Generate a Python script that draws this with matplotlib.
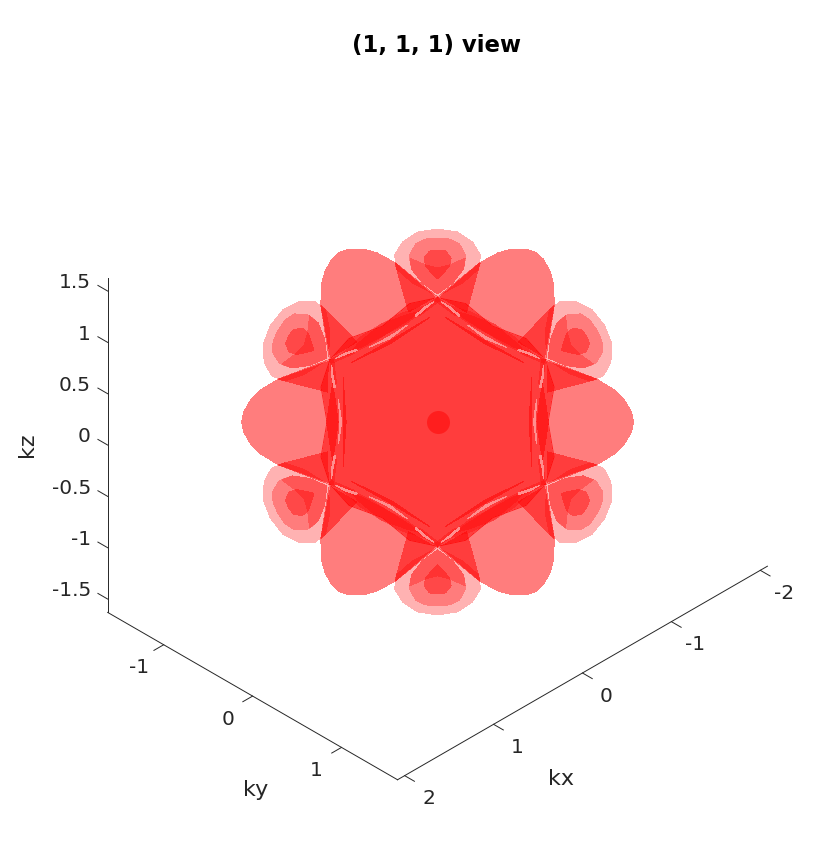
import numpy as np
import matplotlib
matplotlib.use("Agg")
import matplotlib.pyplot as plt
from mpl_toolkits.mplot3d.art3d import Poly3DCollection
from mpl_toolkits.mplot3d import proj3d

""" Axis ranges and ticks """

xlim = [-2.08, 2.08]
ylim = [-1.63, 1.63]
zlim = [-1.63, 1.63]
xticks = [-2, -1, 0, 1, 2]
yticks = [-1, 0, 1]
zticks = [-1.5, -1, -0.5, 0, 0.5, 1, 1.5]
zticklabels = ["-1.5", "-1", "-0.5", "0", "0.5", "1", "1.5"]

""" Sheet outlines read off the picture, as offsets in the (1,1,1) view plane.
    Each one is repeated every 60 degrees round the centre. """

px_per_k = 125.8

# big lobe, pointing right (upper half, mirrored in v)
lobe_u = [196, 194, 187, 177, 159, 108, 117, 111]
lobe_v = [0, 10, 22, 32, 43, 62.5, 35, 0]

# small petal, pointing up (left half, mirrored in u)
outer_u = [0, -20, -35, -43, -41, -25, 0]
outer_v = [193, 190, 180, 167, 153, 139, 126]
mid_u = [0, -12, -22, -28, -26, -15, 0]
mid_v = [184, 183, 178, 167, 153, 139, 128]
cup_u = [0, -12, -28, -26, -15, 0]
cup_v = [154, 157, 164, 153, 139, 128]
cone_u = [0, -8, -13.5, -12, -5, 0]
cone_v = [172, 171, 164, 156, 148, 143]

# flap beside each petal
flap_u = [-42.5, -29, -2.5]
flap_v = [159, 110, 125]

# one sixth of the central sheet
core_u = [117, 111, 117, 108]
core_v = [-35, 0, 35, 62.5]

# features along each hexagon edge
lens_u = [105, 108, 110.8, 108, 105, 102, 99.5, 102]
lens_v = [38, 20, 0, -20, -38, -20, 0, 20]
band_u = [106, 112, 113, 108, 103, 101, 102, 103]
band_v = [50, 25, 0, -28, -45, -20, 0, 28]
arm_u = [105, 108, 104, 101]
arm_v = [38, 62.5, 62.5, 38]
line_u = [94.5, 94, 94.5, 91.5]
line_v = [45, 0, -45, 0]
streak_u = [106, 104.5, 102, 103.5, 106]
streak_v = [57, 46, 34, 34, 46]
gap_u = [99, 98, 99, 96]
gap_v = [22, 0, -22, 0]

ink = "#262626"
tick_len = 0.11


def lift(u, v):
    """view plane offsets to kx, ky, kz"""
    u = np.asarray(u, float) / px_per_k
    v = np.asarray(v, float) / px_per_k
    s2, s6 = np.sqrt(2), np.sqrt(6)
    return np.column_stack([-u / s2 - v / s6, u / s2 - v / s6, 2 * v / s6])


def rotated(u, v, deg):
    a = np.radians(deg)
    u, v = np.asarray(u, float), np.asarray(v, float)
    return u * np.cos(a) - v * np.sin(a), u * np.sin(a) + v * np.cos(a)


def mirror_v(u, v):
    return list(u) + list(u[-2:0:-1]), list(v) + [-t for t in v[-2:0:-1]]


def mirror_u(u, v):
    return list(u) + [-t for t in u[-2:0:-1]], list(v) + list(v[-2:0:-1])


def add_sheet(ax, outlines, layers, z, color=None, angles=range(0, 360, 60)):
    """every outline at the given rotations, 30% red per layer"""
    verts = []
    for u, v in outlines:
        for deg in angles:
            verts.append(lift(*rotated(u, v, deg)))
    fc = color if color else (1, 0, 0, 1 - 0.7 ** layers)
    coll = Poly3DCollection(verts, facecolors=fc, edgecolors="none", linewidths=0, zorder=z)
    coll.set_antialiased(False)
    ax.add_collection3d(coll)


def label(ax, x, y, z, s, **kw):
    """text at a data position, through the 3d projection"""
    px, py, _ = proj3d.proj_transform(x, y, z, ax.get_proj())
    ax.text2D(px, py, s, color=ink, **kw)


fig = plt.figure(figsize=(8.27, 8.52), dpi=100)
ax = fig.add_axes([48.3 / 827, 40.8 / 852, 758 / 827, 758 / 852], projection="3d",
                  proj_type="ortho", computed_zorder=False)
ax.view_init(elev=35.264, azim=45)
ax.set_box_aspect((xlim[1] - xlim[0], ylim[1] - ylim[0], zlim[1] - zlim[0]))
ax.set_axis_off()

add_sheet(ax, [mirror_v(lobe_u, lobe_v)], 2, 1)
add_sheet(ax, [mirror_u(outer_u, outer_v)], 1, 2)
add_sheet(ax, [mirror_u(mid_u, mid_v)], 1, 3)
add_sheet(ax, [mirror_u(cup_u, cup_v)], 1, 4)
add_sheet(ax, [mirror_u(cone_u, cone_v)], 1.5, 5)
add_sheet(ax, [(flap_u, flap_v), ([-t for t in flap_u], flap_v)], 2, 6)

core = [rotated(core_u, core_v, d) for d in range(0, 360, 60)]
core_verts = lift(np.concatenate([c[0] for c in core]), np.concatenate([c[1] for c in core]))
ax.add_collection3d(Poly3DCollection([core_verts], facecolors=(1, 0, 0, 1 - 0.7 ** 4),
                                     edgecolors="none", linewidths=0, zorder=7))

add_sheet(ax, [(line_u, line_v)], 2, 8)
add_sheet(ax, [(lens_u, lens_v)], 2, 9, angles=[0, 180])
add_sheet(ax, [(band_u, band_v), (band_u, [-t for t in band_v])], 1, 9, angles=[60, 120, 240, 300])
add_sheet(ax, [(arm_u, arm_v), (arm_u, [-t for t in arm_v])], 1, 10)
add_sheet(ax, [(streak_u, streak_v), (streak_u, [-t for t in streak_v]), (gap_u, gap_v)], 0, 11, color="#ff8f8f")

# dot at the middle of the surface
ax.scatter([0], [0], [0], s=275, color=(1, 0, 0, 0.5), linewidths=0, depthshade=False, zorder=12)

""" Box edges, ticks and labels in MATLAB's place """

ax.plot(xlim, [ylim[1]] * 2, [zlim[0]] * 2, color=ink, lw=0.7, zorder=20)
ax.plot([xlim[1]] * 2, ylim, [zlim[0]] * 2, color=ink, lw=0.7, zorder=20)
ax.plot([xlim[1]] * 2, [ylim[0]] * 2, zlim, color=ink, lw=0.7, zorder=20)

for t in xticks:
    ax.plot([t, t], [ylim[1], ylim[1] + tick_len], [zlim[0]] * 2, color=ink, lw=0.7, zorder=20)
for t in yticks:
    ax.plot([xlim[1], xlim[1] + tick_len], [t, t], [zlim[0]] * 2, color=ink, lw=0.7, zorder=20)
for t in zticks:
    ax.plot([xlim[1]] * 2, [ylim[0], ylim[0] - tick_len], [t, t], color=ink, lw=0.7, zorder=20)

ax.set_xlim(xlim)
ax.set_ylim(ylim)
ax.set_zlim(zlim)

for t in xticks:
    label(ax, t, ylim[1] + 0.27, zlim[0] - 0.09, str(t), ha="center", va="center", fontsize=14.5)
for t in yticks:
    label(ax, xlim[1] + 0.28, t, zlim[0] - 0.085, str(t), ha="center", va="center", fontsize=14.5)
for t, lab in zip(zticks, zticklabels):
    label(ax, xlim[1], ylim[0] - 0.19, t - 0.015, lab, ha="right", va="center", fontsize=14.5)

label(ax, 1.157, ylim[1] + 0.914, zlim[0], "kx", ha="center", va="center", fontsize=16)
label(ax, xlim[1] + 0.902, 0.936, zlim[0], "ky", ha="center", va="center", fontsize=16)
label(ax, xlim[1] + 0.455, ylim[0] - 0.455, 0, "kz", ha="center", va="center", rotation=90, fontsize=16)

fig.text(437 / 827, 1 - 45.5 / 852, "(1, 1, 1) view", ha="center", va="center",
         fontsize=16.4, fontweight="bold", color="black")

fig.savefig("out.png", dpi=100)
